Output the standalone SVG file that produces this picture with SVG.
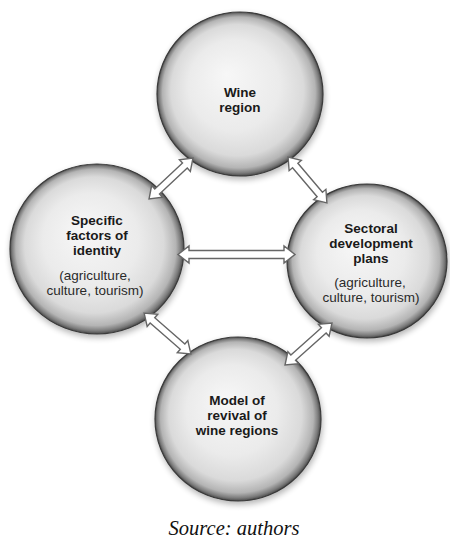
<svg xmlns="http://www.w3.org/2000/svg" width="450" height="539" viewBox="0 0 450 539">
<style>
.b{font-family:"Liberation Sans",Arial,sans-serif;font-weight:bold;font-size:13.5px;fill:#1a1a1a;text-anchor:middle}
.r{font-family:"Liberation Sans",Arial,sans-serif;font-size:13.5px;fill:#2a2a2a;text-anchor:middle}
.src{font-family:"Liberation Serif","Times New Roman",serif;font-style:italic;font-size:20.5px;fill:#111;text-anchor:middle}
.ball{fill:url(#ball);stroke:#3a3a3a;stroke-width:1.2;filter:url(#sh)}
.arr{fill:#fff;stroke:#666;stroke-width:1.4;stroke-linejoin:miter}
</style>
<defs>
<radialGradient id="ball" cx="0.5" cy="0.5" r="0.5" fx="0.42" fy="0.38">
<stop offset="0" stop-color="#f7f7f7"/>
<stop offset="0.55" stop-color="#ebebeb"/>
<stop offset="0.8" stop-color="#dadada"/>
<stop offset="0.92" stop-color="#b4b4b4"/>
<stop offset="0.97" stop-color="#7c7c7c"/>
<stop offset="1" stop-color="#4a4a4a"/>
</radialGradient>
<filter id="sh" x="-20%" y="-20%" width="140%" height="140%">
<feGaussianBlur in="SourceAlpha" stdDeviation="3"/>
<feOffset dx="1" dy="3"/>
<feComponentTransfer><feFuncA type="linear" slope="0.3"/></feComponentTransfer>
<feMerge><feMergeNode/><feMergeNode in="SourceGraphic"/></feMerge>
</filter>
</defs>
<rect width="450" height="539" fill="#fff"/>
<g id="wine-region">
<ellipse class="ball" cx="240" cy="94" rx="83" ry="82"/>
<text class="b" x="240" y="96.5">Wine</text>
<text class="b" x="240" y="111.7">region</text>
</g>
<g id="specific-factors">
<ellipse class="ball" cx="97" cy="249" rx="87" ry="85"/>
<text class="b" x="97" y="225">Specific</text>
<text class="b" x="97" y="240.2">factors of</text>
<text class="b" x="97" y="255.4">identity</text>
<text class="r" x="95" y="280">(agriculture,</text>
<text class="r" x="95" y="295.2">culture, tourism)</text>
</g>
<g id="sectoral-plans">
<ellipse class="ball" cx="367" cy="261" rx="80" ry="77"/>
<text class="b" x="371" y="233">Sectoral</text>
<text class="b" x="371" y="248.2">development</text>
<text class="b" x="371" y="263.4">plans</text>
<text class="r" x="370" y="287">(agriculture,</text>
<text class="r" x="371" y="302.2">culture, tourism)</text>
</g>
<g id="model-revival">
<ellipse class="ball" cx="238" cy="419" rx="83" ry="82"/>
<text class="b" x="237" y="404.5">Model of</text>
<text class="b" x="237" y="419.7">revival of</text>
<text class="b" x="237" y="434.9">wine regions</text>
</g>
<g id="connectors">
<path class="arr" transform="translate(171,178.5) rotate(-43)" d="M-30,0 L-19,-8 L-19,-3.5 L19,-3.5 L19,-8 L30,0 L19,8 L19,3.5 L-19,3.5 L-19,8 Z"/>
<path class="arr" transform="translate(307.5,180) rotate(49.7)" d="M-30,0 L-19,-8 L-19,-3.5 L19,-3.5 L19,-8 L30,0 L19,8 L19,3.5 L-19,3.5 L-19,8 Z"/>
<path class="arr" transform="translate(236.5,254.5)" d="M-58.5,0 L-47.5,-8.5 L-47.5,-4 L47.5,-4 L47.5,-8.5 L58.5,0 L47.5,8.5 L47.5,4 L-47.5,4 L-47.5,8.5 Z"/>
<path class="arr" transform="translate(167.5,333.5) rotate(41.1)" d="M-31,0 L-20,-8 L-20,-3.5 L20,-3.5 L20,-8 L31,0 L20,8 L20,3.5 L-20,3.5 L-20,8 Z"/>
<path class="arr" transform="translate(308.5,344) rotate(-41.8)" d="M-31.5,0 L-20.5,-8 L-20.5,-3.5 L20.5,-3.5 L20.5,-8 L31.5,0 L20.5,8 L20.5,3.5 L-20.5,3.5 L-20.5,8 Z"/>
</g>
<text class="src" x="234" y="535">Source: authors</text>
</svg>
